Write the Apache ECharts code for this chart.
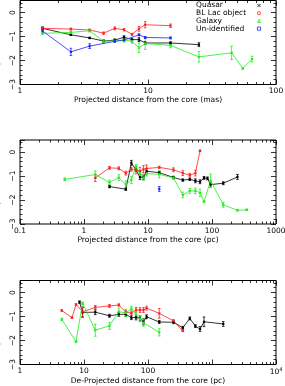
<!DOCTYPE html>
<html><head><meta charset="utf-8">
<script src="https://cdn.jsdelivr.net/npm/echarts@6/dist/echarts.min.js"></script>
<style>html,body{margin:0;padding:0;background:#fff}#c{width:285px;height:386px}</style>
</head><body><div id="c"></div>
<script>
// ---------- Panel 1: projected distance (mas) ----------
const quasarX1 = [1.5,2.5,3.5,4.5,5.5,6.5,7.5,8.5,9.5,15,25];
const quasarY1 = [-0.66,-0.93,-1.06,-1.19,-1.15,-1.03,-1.13,-1.13,-1.27,-1.27,-1.34];
const quasarE1 = [0.06,0.03,0.03,0.05,0.05,0.06,0.06,0.08,0.06,0.05,0.08];
const bllacX1 = [1.5,2.5,3.5,4.5,5.5,6.5,7.5,8.5,9.5,15];
const bllacY1 = [-0.66,-0.69,-0.73,-0.86,-0.66,-0.72,-0.91,-0.68,-0.51,-0.55];
const bllacE1 = [0.04,0.04,0.04,0.05,0.06,0.05,0.04,0.1,0.13,0.07];
const galaxyX1 = [1.5,2.5,3.5,4.5,5.5,6.5,7.5,8.5,9.5,15,25,45,55,65];
const galaxyY1 = [-0.87,-0.83,-0.76,-1.2,-1.18,-1.15,-1.2,-1.47,-1.29,-1.37,-1.85,-1.68,-2.33,-1.94];
const galaxyE1 = [0.04,0.04,0.05,0.06,0.06,0.08,0.08,0.2,0.25,0.1,0.22,0.28,0.03,0.12];
const unidX1 = [1.5,2.5,3.5,5.5,6.5,8.5,9.5,15];
const unidY1 = [-0.77,-1.64,-1.4,-1.2,-1.15,-0.93,-1.04,-1.06];
const unidE1 = [0.05,0.15,0.1,0.04,0.04,0.04,0.04,0.04];

// ---------- Panel 2: projected distance (pc) ----------
const quasarX2 = [2.5,4.5,5.5,6.5,7.5,8.5,9.5,15,25,35,45,55,65,75,85,95,150,250];
const quasarY2 = [-1.44,-1.55,-0.45,-0.75,-1.05,-1.06,-0.8,-0.86,-1.06,-1.17,-1.14,-1.2,-1.24,-1.08,-1.1,-1.36,-1.3,-1.04];
const quasarE2 = [0.05,0.05,0.1,0.05,0.1,0.1,0.1,0.05,0.05,0.05,0.05,0.08,0.08,0.06,0.06,0.1,0.06,0.1];
const bllacX2 = [1.5,2.5,3.5,4.5,5.5,6.5,7.5,8.5,9.5,15,25,35,45,55,65];
const bllacY2 = [-1.08,-0.66,-0.68,-0.88,-0.72,-0.76,-0.79,-0.72,-0.69,-0.64,-0.74,-0.88,-0.97,-0.88,0.05];
const bllacE2 = [0.15,0.06,0.06,0.08,0.08,0.15,0.15,0.15,0.15,0.05,0.08,0.1,0.08,0.12,0.03];
const galaxyX2 = [0.5,1.5,2.5,3.5,4.5,5.5,6.5,7.5,8.5,9.5,15,25,35,45,55,65,75,95,150,250,350];
const galaxyY2 = [-1.14,-0.94,-1.27,-1.07,-1.36,-1.16,-0.6,-0.95,-1.07,-0.9,-0.93,-1.08,-1.79,-1.62,-1.62,-1.7,-2.07,-1.2,-2.2,-2.43,-2.41];
const galaxyE2 = [0.06,0.15,0.1,0.12,0.15,0.15,0.08,0.1,0.1,0.1,0.15,0.06,0.12,0.1,0.12,0.15,0.03,0.28,0.1,0.03,0.03];
const unidX2 = [15];
const unidY2 = [-1.54];
const unidE2 = [0.1];

// ---------- Panel 3: de-projected distance (pc) ----------
const quasarX3 = [8.5,9.5,15,25,35,45,55,65,75,85,95,150,250,350,450,550,650,750,1500];
const quasarY3 = [-0.4,-0.83,-0.82,-0.97,-0.91,-0.91,-1.05,-1.04,-1.08,-1.22,-1.01,-1.23,-1.24,-1.47,-1.08,-1.4,-1.52,-1.22,-1.31];
const quasarE3 = [0.05,0.2,0.1,0.06,0.08,0.08,0.08,0.1,0.1,0.12,0.08,0.06,0.06,0.06,0.06,0.06,0.1,0.2,0.1];
const bllacX3 = [4.5,6.5,7.5,9.5,15,25,35,45,55,65,75,85,95,150,250,350];
const bllacY3 = [-0.75,-1.05,-0.5,-0.8,-0.62,-0.56,-0.52,-0.82,-0.86,-0.72,-0.73,-0.73,-0.65,-0.87,-1.18,-1.6];
const bllacE3 = [0.03,0.03,0.03,0.2,0.08,0.06,0.05,0.08,0.08,0.1,0.1,0.1,0.08,0.2,0.05,0.03];
const galaxyX3 = [4.5,7.5,9.5,15,25,35,45,55,65,75,85,150];
const galaxyY3 = [-1.12,-2.05,-0.45,-1.57,-1.39,-0.8,-0.85,-0.68,-0.92,-1.1,-1.26,-1.66];
const galaxyE3 = [0.05,0.03,0.05,0.25,0.15,0.15,0.15,0.1,0.12,0.12,0.15,0.15];

const xTitles = ['Projected distance from the core (mas)','Projected distance from the core (pc)','De-Projected distance from the core (pc)'];
const xRanges = [[1,100],[0.1,1000],[1,10000]];
const yTitle = 'Spectral Index';
const seriesNames = ['Quasar','BL Lac object','Galaxy','Un-identified'];
const seriesColors = ['#000000','#ff2020','#20ee20','#2020ff'];
const legendSymbols = ['cross','circle','triangle','square'];

const panels = [
  [[quasarX1,quasarY1,quasarE1],[bllacX1,bllacY1,bllacE1],[galaxyX1,galaxyY1,galaxyE1],[unidX1,unidY1,unidE1]],
  [[quasarX2,quasarY2,quasarE2],[bllacX2,bllacY2,bllacE2],[galaxyX2,galaxyY2,galaxyE2],[unidX2,unidY2,unidE2]],
  [[quasarX3,quasarY3,quasarE3],[bllacX3,bllacY3,bllacE3],[galaxyX3,galaxyY3,galaxyE3],null]
];

const FONT = 'DejaVu Sans';
const gridTops = [0.5, 140, 280.5];
const grids = [], xAxes = [], yAxes = [], series = [];

function minorTicks(r){
  const out = [];
  const a = Math.round(Math.log10(r[0])), b = Math.round(Math.log10(r[1]));
  for (let e = a; e < b; e++) for (let m = 2; m <= 9; m++) out.push(Math.log10(m) + e);
  return out;
}
function fmtX(v){
  if (v >= 10000) return '10{sup|' + Math.round(Math.log10(v)) + '}';
  return String(v);
}

panels.forEach((p, g) => {
  grids.push({left: 20, top: gridTops[g], width: 256, height: 84, show: true, borderColor: '#000', borderWidth: 1,
    backgroundColor: 'transparent', containLabel: false, outerBoundsMode: 'none'});
  const r = xRanges[g];
  const tickBase = {show: true, inside: true, length: 5, lineStyle: {color: '#000', width: 0.8}};
  xAxes.push({
    type: 'log', logBase: 10, gridIndex: g, min: r[0], max: r[1], position: 'bottom',
    axisLine: {show: false, onZero: false}, splitLine: {show: false},
    axisTick: tickBase,
    axisLabel: {fontFamily: FONT, fontSize: 7.5, color: '#000', margin: 3, hideOverlap: false,
      formatter: v => (g === 2 && v === 1000) ? '' : fmtX(v),
      rich: {sup: {fontSize: 5, verticalAlign: 'top', padding: [0,0,4,0], fontFamily: FONT, color:'#000'}}},
    name: xTitles[g], nameLocation: 'middle', nameGap: 12,
    nameTextStyle: {fontFamily: FONT, fontSize: 7.6, color: '#000'}
  });
  xAxes.push({type: 'log', logBase: 10, gridIndex: g, min: r[0], max: r[1], position: 'top',
    axisLine: {show: false, onZero: false}, splitLine: {show: false}, axisTick: tickBase, axisLabel: {show: false}});
  const mt = minorTicks(r);
  const lmin = Math.log10(r[0]), lmax = Math.log10(r[1]);
  ['bottom','top'].forEach(pos => xAxes.push({
    type: 'value', gridIndex: g, min: lmin, max: lmax, position: pos,
    axisLine: {show: false, onZero: false}, splitLine: {show: false}, axisLabel: {show: false},
    axisTick: {show: true, inside: true, length: 2.5, customValues: mt, lineStyle: {color: '#000', width: 0.8}}
  }));
  const yTick = {show: true, inside: true, length: 5, lineStyle: {color: '#000', width: 0.8}};
  const yMinor = {show: true, splitNumber: 5, length: 2.5, lineStyle: {color: '#000', width: 0.8}};
  yAxes.push({type: 'value', gridIndex: g, min: -3, max: 0.5, interval: 1, position: 'left',
    axisLine: {show: false, onZero: false}, splitLine: {show: false}, minorSplitLine: {show: false},
    axisTick: yTick, minorTick: yMinor,
    axisLabel: {rotate: 90, fontFamily: FONT, fontSize: 7.5, color: '#000', margin: 3,
      formatter: v => (v === 0.5 ? '' : (v < 0 ? '\u2212' + Math.abs(v) : String(v)))},
    name: yTitle, nameLocation: 'middle', nameGap: 11, nameRotate: 90,
    nameTextStyle: {fontFamily: FONT, fontSize: 7.6, color: '#000'}});
  yAxes.push({type: 'value', gridIndex: g, min: -3, max: 0.5, interval: 1, position: 'right',
    axisLine: {show: false, onZero: false}, splitLine: {show: false}, minorSplitLine: {show: false},
    axisTick: yTick, minorTick: yMinor, axisLabel: {show: false}});

  p.forEach((s, i) => {
    if (!s) return;
    const [xs, ys, es] = s;
    const col = seriesColors[i];
    series.push({
      type: 'line', name: seriesNames[i], xAxisIndex: 4*g, yAxisIndex: 2*g,
      data: xs.map((x, k) => [x, ys[k]]),
      symbol: 'rect', symbolSize: 2.2, showSymbol: true,
      lineStyle: {color: col, width: 0.8}, itemStyle: {color: col},
      animation: false, z: 3
    });
    series.push({
      type: 'custom', name: seriesNames[i], xAxisIndex: 4*g, yAxisIndex: 2*g,
      data: xs.map((x, k) => [x, ys[k], es[k]]),
      renderItem: (params, api) => {
        const x = api.value(0), y = api.value(1), e = api.value(2);
        const lo = api.coord([x, y - e]), hi = api.coord([x, y + e]);
        const w = 1.3, st = {stroke: col, lineWidth: 0.8};
        return {type: 'group', children: [
          {type: 'line', shape: {x1: lo[0], y1: lo[1], x2: hi[0], y2: hi[1]}, style: st},
          {type: 'line', shape: {x1: lo[0]-w, y1: lo[1], x2: lo[0]+w, y2: lo[1]}, style: st},
          {type: 'line', shape: {x1: hi[0]-w, y1: hi[1], x2: hi[0]+w, y2: hi[1]}, style: st}
        ]};
      },
      animation: false, z: 2
    });
  });
});

// legend drawn as graphic text + open symbols (text left, symbol right, as in the reference)
const legendGraphics = [];
seriesNames.forEach((n, i) => {
  const y = 5.5 + i * 7.7;
  legendGraphics.push({type: 'text', x: 196, y: y, style: {text: n, font: '7.5px "' + FONT + '"', fill: '#000', textVerticalAlign: 'middle', verticalAlign: 'middle'}});
  const col = seriesColors[i], cx = 259, s = 1.6;
  const st = {stroke: col, fill: 'none', lineWidth: 0.8};
  let shape;
  if (legendSymbols[i] === 'cross') shape = {type: 'polyline', shape: {points: [[cx-s,y-s],[cx+s,y+s]]}, style: st};
  if (legendSymbols[i] === 'circle') shape = {type: 'circle', shape: {cx: cx, cy: y, r: s}, style: st};
  if (legendSymbols[i] === 'triangle') shape = {type: 'polygon', shape: {points: [[cx,y-s],[cx+s,y+s],[cx-s,y+s]]}, style: st};
  if (legendSymbols[i] === 'square') shape = {type: 'rect', shape: {x: cx-s, y: y-s, width: 2*s, height: 2*s}, style: st};
  legendGraphics.push(shape);
  if (legendSymbols[i] === 'cross') legendGraphics.push({type: 'polyline', shape: {points: [[cx-s,y+s],[cx+s,y-s]]}, style: st});
});

const chart = echarts.init(document.getElementById('c'), null, {renderer: 'canvas'});
chart.setOption({
  animation: false,
  grid: grids, xAxis: xAxes, yAxis: yAxes, series: series,
  graphic: legendGraphics
});
</script></body></html>
